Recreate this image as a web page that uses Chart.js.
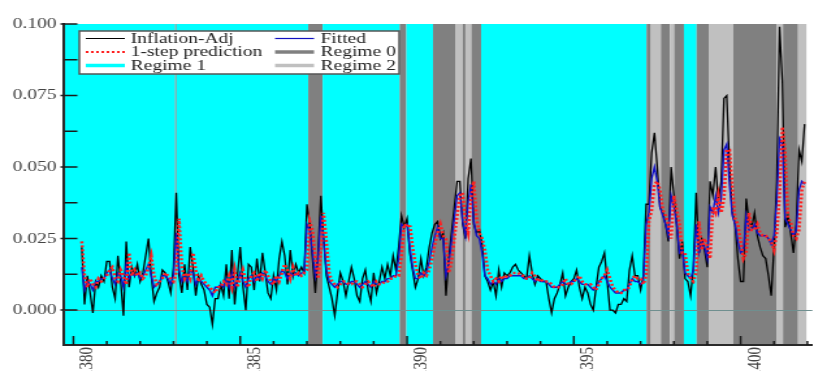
<!DOCTYPE html>
<html>
<head>
<meta charset="utf-8">
<script src="https://cdn.jsdelivr.net/npm/chart.js@4.4.0/dist/chart.umd.min.js"></script>
<style>
  html, body { margin: 0; padding: 0; background: #fff; overflow: hidden; }
  /* the reference is stretched horizontally, so the chart is drawn narrower and widened */
  #wrap { width: 626px; height: 371px; transform: scaleX(1.3003); transform-origin: 0 0; }
</style>
</head>
<body>
<div id="wrap"><canvas id="chart"></canvas></div>
<script>
// monthly series, first point is month 4 of 1380
const firstYear = 1380;
const firstMonth = 4;

const inflationAdj = [
  0.022, 0.002, 0.012, 0.006, -0.001, 0.010, 0.008, 0.012, 0.010, 0.017, 0.017, 0.008,
  0.004, 0.019, 0.010, -0.002, 0.024, 0.008, 0.015, 0.012, 0.016, 0.010, 0.013, 0.019,
  0.025, 0.012, 0.003, 0.006, 0.008, 0.014, 0.013, 0.010, 0.006, 0.015, 0.041, 0.012,
  0.006, 0.016, 0.007, 0.022, 0.015, 0.005, 0.012, 0.009, 0.007, 0.002, 0.001, -0.005,
  0.004, 0.004, 0.009, 0.005, 0.016, 0.004, 0.021, 0.002, 0.012, 0.022, 0.008, 0.000,
  0.016, 0.015, 0.007, 0.018, 0.010, 0.020, 0.013, 0.006, 0.004, 0.012, 0.007, 0.018,
  0.024, 0.019, 0.009, 0.021, 0.012, 0.016, 0.013, 0.015, 0.013, 0.037, 0.030, 0.018,
  0.006, 0.020, 0.040, 0.025, 0.012, 0.008, 0.004, -0.002, 0.006, 0.013, 0.010, 0.005,
  0.010, 0.015, 0.011, 0.005, 0.003, 0.011, 0.014, 0.007, 0.003, 0.013, 0.006, 0.010,
  0.015, 0.011, 0.016, 0.012, 0.019, 0.014, 0.022, 0.033, 0.029, 0.032, 0.020, 0.014,
  0.008, 0.011, 0.018, 0.012, 0.015, 0.022, 0.027, 0.030, 0.031, 0.025, 0.027, 0.005,
  0.018, 0.027, 0.036, 0.045, 0.045, 0.030, 0.025, 0.046, 0.053, 0.030, 0.027, 0.028,
  0.023, 0.012, 0.010, 0.007, 0.010, 0.005, 0.014, 0.008, 0.013, 0.012, 0.013, 0.015,
  0.016, 0.014, 0.013, 0.012, 0.011, 0.019, 0.013, 0.009, 0.012, 0.011, 0.010, 0.010,
  0.004, -0.001, 0.004, 0.006, 0.009, 0.013, 0.005, 0.008, 0.010, 0.011, 0.014, 0.008,
  0.004, 0.008, 0.006, 0.002, 0.000, 0.008, 0.015, 0.017, 0.020, 0.010, 0.000, 0.000,
  -0.001, 0.002, 0.002, 0.004, 0.003, 0.014, 0.019, 0.012, 0.012, 0.007, 0.012, 0.037,
  0.037, 0.055, 0.062, 0.050, 0.036, 0.034, 0.030, 0.024, 0.050, 0.040, 0.030, 0.018,
  0.024, 0.011, 0.010, 0.005, 0.015, 0.041, 0.020, 0.025, 0.021, 0.015, 0.045, 0.040,
  0.050, 0.038, 0.045, 0.074, 0.075, 0.050, 0.034, 0.030, 0.018, 0.010, 0.010, 0.039,
  0.031, 0.029, 0.034, 0.026, 0.022, 0.019, 0.018, 0.012, 0.005, 0.022, 0.045, 0.099,
  0.080, 0.029, 0.033, 0.027, 0.020, 0.030, 0.056, 0.052, 0.065
];

const fitted = [
  0.015, 0.007, 0.010, 0.009, 0.007, 0.010, 0.010, 0.011, 0.011, 0.013, 0.014, 0.011,
  0.009, 0.013, 0.012, 0.008, 0.016, 0.011, 0.013, 0.012, 0.013, 0.011, 0.012, 0.014,
  0.016, 0.012, 0.008, 0.009, 0.010, 0.012, 0.012, 0.011, 0.009, 0.012, 0.027, 0.014,
  0.010, 0.012, 0.010, 0.014, 0.013, 0.009, 0.011, 0.010, 0.009, 0.008, 0.007, 0.005,
  0.008, 0.008, 0.009, 0.008, 0.011, 0.008, 0.013, 0.008, 0.010, 0.013, 0.010, 0.008,
  0.011, 0.012, 0.010, 0.012, 0.011, 0.013, 0.012, 0.010, 0.009, 0.011, 0.010, 0.012,
  0.014, 0.013, 0.011, 0.013, 0.012, 0.013, 0.012, 0.013, 0.013, 0.030, 0.028, 0.020,
  0.012, 0.018, 0.033, 0.024, 0.014, 0.010, 0.009, 0.008, 0.009, 0.010, 0.010, 0.009,
  0.009, 0.010, 0.010, 0.009, 0.008, 0.009, 0.010, 0.009, 0.008, 0.010, 0.009, 0.009,
  0.010, 0.010, 0.011, 0.011, 0.012, 0.012, 0.018, 0.030, 0.029, 0.030, 0.022, 0.015,
  0.011, 0.011, 0.013, 0.012, 0.013, 0.017, 0.022, 0.026, 0.029, 0.025, 0.025, 0.012,
  0.016, 0.024, 0.032, 0.040, 0.041, 0.031, 0.026, 0.038, 0.044, 0.031, 0.026, 0.025,
  0.020, 0.012, 0.011, 0.009, 0.010, 0.009, 0.011, 0.010, 0.011, 0.011, 0.012, 0.012,
  0.012, 0.012, 0.012, 0.011, 0.011, 0.012, 0.011, 0.010, 0.011, 0.010, 0.010, 0.010,
  0.009, 0.008, 0.008, 0.008, 0.009, 0.010, 0.009, 0.009, 0.010, 0.010, 0.011, 0.010,
  0.009, 0.009, 0.009, 0.008, 0.007, 0.008, 0.010, 0.011, 0.012, 0.010, 0.008, 0.007,
  0.006, 0.006, 0.006, 0.007, 0.007, 0.009, 0.011, 0.010, 0.010, 0.009, 0.010, 0.030,
  0.034, 0.046, 0.050, 0.045, 0.036, 0.033, 0.030, 0.026, 0.040, 0.036, 0.030, 0.020,
  0.021, 0.013, 0.012, 0.011, 0.014, 0.030, 0.020, 0.024, 0.022, 0.018, 0.036, 0.034,
  0.040, 0.034, 0.039, 0.056, 0.058, 0.044, 0.033, 0.030, 0.024, 0.020, 0.021, 0.033,
  0.028, 0.028, 0.030, 0.027, 0.026, 0.026, 0.026, 0.025, 0.023, 0.026, 0.038, 0.060,
  0.058, 0.032, 0.030, 0.028, 0.026, 0.028, 0.042, 0.045, 0.044
];

const oneStep = [
  0.024, 0.012, 0.008, 0.011, 0.009, 0.008, 0.011, 0.010, 0.011, 0.012, 0.014, 0.015,
  0.011, 0.010, 0.014, 0.012, 0.009, 0.020, 0.012, 0.014, 0.012, 0.013, 0.011, 0.012,
  0.015, 0.019, 0.012, 0.009, 0.010, 0.011, 0.013, 0.012, 0.011, 0.010, 0.013, 0.032,
  0.015, 0.011, 0.013, 0.011, 0.020, 0.014, 0.010, 0.012, 0.010, 0.009, 0.008, 0.007,
  0.006, 0.008, 0.008, 0.010, 0.009, 0.012, 0.008, 0.014, 0.008, 0.011, 0.014, 0.010,
  0.008, 0.012, 0.013, 0.010, 0.013, 0.011, 0.014, 0.012, 0.010, 0.009, 0.012, 0.010,
  0.013, 0.016, 0.014, 0.011, 0.015, 0.012, 0.013, 0.012, 0.013, 0.014, 0.031, 0.028,
  0.018, 0.011, 0.020, 0.034, 0.024, 0.013, 0.010, 0.009, 0.008, 0.009, 0.010, 0.010,
  0.009, 0.009, 0.010, 0.010, 0.009, 0.008, 0.009, 0.010, 0.009, 0.008, 0.010, 0.009,
  0.009, 0.010, 0.010, 0.011, 0.011, 0.012, 0.012, 0.019, 0.030, 0.029, 0.030, 0.022,
  0.016, 0.012, 0.011, 0.013, 0.012, 0.014, 0.018, 0.023, 0.027, 0.030, 0.026, 0.025,
  0.013, 0.017, 0.025, 0.033, 0.040, 0.041, 0.031, 0.027, 0.039, 0.045, 0.032, 0.027,
  0.025, 0.021, 0.014, 0.012, 0.010, 0.011, 0.010, 0.012, 0.011, 0.012, 0.012, 0.013,
  0.013, 0.013, 0.012, 0.012, 0.011, 0.011, 0.013, 0.012, 0.010, 0.011, 0.010, 0.010,
  0.010, 0.009, 0.008, 0.008, 0.008, 0.009, 0.011, 0.009, 0.009, 0.010, 0.011, 0.012,
  0.010, 0.009, 0.009, 0.009, 0.008, 0.007, 0.009, 0.011, 0.012, 0.014, 0.011, 0.008,
  0.007, 0.006, 0.006, 0.007, 0.007, 0.008, 0.011, 0.012, 0.011, 0.011, 0.009, 0.012,
  0.031, 0.035, 0.044, 0.045, 0.042, 0.035, 0.033, 0.030, 0.025, 0.040, 0.035, 0.030,
  0.020, 0.020, 0.013, 0.011, 0.010, 0.013, 0.031, 0.021, 0.025, 0.022, 0.018, 0.036,
  0.034, 0.040, 0.034, 0.039, 0.056, 0.056, 0.043, 0.032, 0.030, 0.024, 0.018, 0.020,
  0.034, 0.028, 0.028, 0.030, 0.027, 0.026, 0.026, 0.025, 0.024, 0.021, 0.027, 0.040,
  0.064, 0.055, 0.032, 0.031, 0.026, 0.025, 0.028, 0.042, 0.045
];

// regime periods: boundaries (in years) and the regime of each span between them
const regimeBreaks = [
  1379.69, 1383.05, 1383.09, 1387.04, 1387.47, 1389.78, 1389.98, 1390.78, 1391.46,
  1391.67, 1391.75, 1391.93, 1392.22, 1397.18, 1397.31, 1397.61, 1397.88, 1398.01,
  1398.30, 1398.68, 1399.06, 1399.78, 1401.07, 1401.27, 1401.72, 1401.97
];
const regimeIds = [1, 0, 1, 0, 1, 0, 1, 0, 2, 0, 2, 0, 1, 0, 2, 0, 2, 0, 1, 0, 2, 0, 2, 0, 2];

const xMajorTicks = [1380, 1385, 1390, 1395, 1400];
const xMinorTicks = [1380, 1381, 1382, 1383, 1384, 1385, 1386, 1387, 1388, 1389, 1390, 1391,
  1392, 1393, 1394, 1395, 1396, 1397, 1398, 1399, 1400, 1401, 1402];
const yMajorTicks = [0, 0.025, 0.05, 0.075, 0.1];
const yMinorTicks = [0.0125, 0.0375, 0.0625, 0.0875];

const xMin = 1379.69, xMax = 1402.15;
const yMin = -0.0122, yMax = 0.1;

const regimeColors = ['#808080', '#00ffff', '#c0c0c0'];
const serif = '"Liberation Serif", "Times New Roman", serif';

const toPoints = arr => arr.map((v, i) => ({ x: firstYear + (firstMonth - 1 + i) / 12, y: v }));

const regimePlugin = {
  id: 'regimes',
  beforeDraw(chart) {
    const { ctx, chartArea: a, scales: { x } } = chart;
    ctx.save();
    ctx.fillStyle = '#fff';
    ctx.fillRect(0, 0, chart.width, chart.height);
    for (let k = 0; k < regimeIds.length; k++) {
      const x0 = x.getPixelForValue(regimeBreaks[k]);
      const x1 = x.getPixelForValue(regimeBreaks[k + 1]);
      ctx.fillStyle = regimeColors[regimeIds[k]];
      ctx.fillRect(x0, a.top, x1 - x0, a.bottom - a.top);
    }
    ctx.restore();
  },
  beforeDatasetsDraw(chart) {
    const { ctx, chartArea: a, scales: { x, y } } = chart;
    ctx.save();
    // zero line
    const y0 = Math.round(y.getPixelForValue(0)) + 0.5;
    ctx.strokeStyle = '#6f8f8f';
    ctx.lineWidth = 1;
    ctx.beginPath();
    ctx.moveTo(a.left, y0);
    ctx.lineTo(a.right, y0);
    ctx.stroke();
    // inner tick marks
    ctx.strokeStyle = '#1a1a1a';
    ctx.lineWidth = 1.5;
    ctx.beginPath();
    xMinorTicks.forEach(v => {
      const px = x.getPixelForValue(v);
      const len = xMajorTicks.includes(v) ? 9 : 4;
      ctx.moveTo(px, a.bottom);
      ctx.lineTo(px, a.bottom - len);
    });
    yMajorTicks.forEach(v => {
      const py = y.getPixelForValue(v);
      ctx.moveTo(a.left - 2, py);
      ctx.lineTo(a.left + 11, py);
    });
    yMinorTicks.forEach(v => {
      const py = y.getPixelForValue(v);
      ctx.moveTo(a.left + 1, py);
      ctx.lineTo(a.left + 11, py);
    });
    ctx.stroke();
    ctx.restore();
  },
  afterDraw(chart) {
    const { ctx } = chart;
    ctx.save();
    // legend box
    ctx.fillStyle = '#fff';
    ctx.fillRect(61, 31, 246, 43);
    ctx.strokeStyle = '#555';
    ctx.lineWidth = 1.5;
    ctx.strokeRect(61, 31, 246, 43);
    const rows = [38.5, 52, 65.5];
    const items = [
      { col: 0, row: 0, text: 'Inflation-Adj', color: '#000', width: 1, dash: [] },
      { col: 1, row: 0, text: 'Fitted', color: '#1010c0', width: 1.2, dash: [] },
      { col: 0, row: 1, text: '1-step prediction', color: '#ff2020', width: 2, dash: [2, 2] },
      { col: 1, row: 1, text: 'Regime 0', color: regimeColors[0], width: 3.5, dash: [] },
      { col: 0, row: 2, text: 'Regime 1', color: regimeColors[1], width: 3.5, dash: [] },
      { col: 1, row: 2, text: 'Regime 2', color: regimeColors[2], width: 3.5, dash: [] }
    ];
    const lineX = [66, 211.5];
    const textX = [100.5, 246.5];
    ctx.font = '15px ' + serif;
    ctx.textBaseline = 'middle';
    items.forEach(it => {
      const yy = rows[it.row];
      ctx.strokeStyle = it.color;
      ctx.lineWidth = it.width;
      ctx.setLineDash(it.dash);
      ctx.beginPath();
      ctx.moveTo(lineX[it.col], yy);
      ctx.lineTo(lineX[it.col] + 30, yy);
      ctx.stroke();
      ctx.setLineDash([]);
      ctx.fillStyle = '#222';
      ctx.fillText(it.text, textX[it.col], yy + 0.5);
    });
    ctx.restore();
  }
};

new Chart(document.getElementById('chart'), {
  type: 'line',
  data: {
    datasets: [
      { label: 'Inflation-Adj', data: toPoints(inflationAdj), borderColor: '#000', borderWidth: 1.3, order: 3 },
      { label: 'Fitted', data: toPoints(fitted), borderColor: '#1010c8', borderWidth: 1.4, order: 2 },
      { label: '1-step prediction', data: toPoints(oneStep), borderColor: '#ff2020', borderWidth: 2.5, borderDash: [2, 2], order: 1 }
    ]
  },
  options: {
    responsive: true,
    maintainAspectRatio: false,
    devicePixelRatio: 1,
    animation: false,
    layout: { padding: { top: 24, left: 0, right: 0, bottom: 0 } },
    elements: { point: { radius: 0 }, line: { tension: 0 } },
    plugins: { legend: { display: false }, tooltip: { enabled: false } },
    scales: {
      x: {
        type: 'linear',
        min: xMin,
        max: xMax,
        afterBuildTicks: s => { s.ticks = xMajorTicks.map(v => ({ value: v })); },
        afterFit: s => { s.height = 26; },
        grid: { display: false, drawTicks: false },
        border: { display: true, color: '#2a2a2a', width: 2 },
        ticks: {
          autoSkip: false,
          minRotation: 90,
          maxRotation: 90,
          labelOffset: 11,
          padding: 2,
          color: '#444',
          font: { family: serif, size: 15 },
          callback: v => String(v)
        }
      },
      y: {
        min: yMin,
        max: yMax,
        afterBuildTicks: s => { s.ticks = yMajorTicks.map(v => ({ value: v })); },
        afterFit: s => { s.width = 48.5; },
        grid: { display: false, drawTicks: false },
        border: { display: true, color: '#2a2a2a', width: 2 },
        ticks: {
          padding: 5,
          color: '#444',
          font: { family: serif, size: 15 },
          callback: v => v.toFixed(3)
        }
      }
    }
  },
  plugins: [regimePlugin]
});
</script>
</body>
</html>
